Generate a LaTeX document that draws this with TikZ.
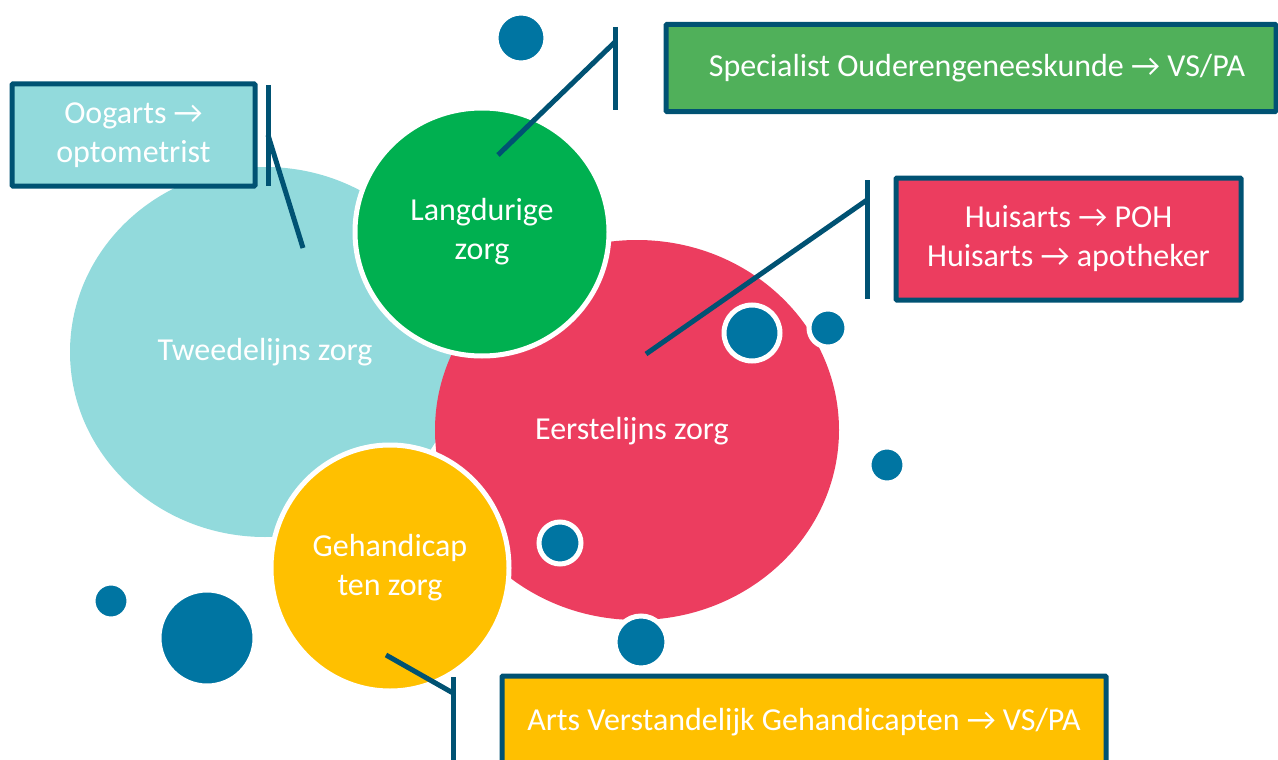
\documentclass[tikz,border=0pt]{standalone}
\usepackage{fontspec}
\setmainfont{Carlito}
\usetikzlibrary{shapes.geometric, positioning}

\definecolor{tealsoft}{RGB}{146,218,220}
\definecolor{carered}{RGB}{236,61,95}
\definecolor{caregreen}{RGB}{0,176,80}
\definecolor{boxgreen}{RGB}{80,176,90}
\definecolor{careyellow}{RGB}{255,192,0}
\definecolor{dotblue}{RGB}{0,117,162}
\definecolor{lineblue}{RGB}{0,82,115}

\newcommand\bigtxt{\fontsize{32}{39}\selectfont}

\tikzset{
  blob/.style={ellipse, inner sep=0pt, text=white, align=center, font=\bigtxt},
  ring/.style={draw=white, line width=5pt},
  dot/.style={circle, fill=dotblue, draw=white, line width=5pt, inner sep=0pt},
  infobox/.style={draw=lineblue, line width=5pt, text=white, align=center,
    font=\bigtxt, rounded corners=1pt, inner sep=0pt},
  callout/.style={draw=lineblue, line width=5pt},
}

\begin{document}
\begin{tikzpicture}[x=1pt, y=-1pt]
  \useasboundingbox (0,0) rectangle (1278,760);

  % zorg circles
  \node[blob, fill=tealsoft, minimum width=390, minimum height=370] (tweede) at (265,352) {Tweedelijns zorg};
  \node[blob, fill=carered, minimum width=404, minimum height=380] (eerste) at (637,430) {};
  \node at (632,431) [text=white, font=\bigtxt] (eersteTxt) {Eerstelijns zorg};
  \node[blob, ring, fill=caregreen, minimum width=254, minimum height=248] (langdurig) at (482,232) {Langdurige\\zorg};
  \node[blob, ring, fill=careyellow, minimum width=238, minimum height=246] (gehandicapt) at (390,568) {Gehandicap\\ten zorg};

  % dots
  \node[dot, minimum size=50] (d1) at (521,38) {};
  \node[dot, minimum size=56] (d2) at (752,333) {};
  \node[dot, minimum size=38] (d3) at (828,328) {};
  \node[dot, minimum size=36] (d4) at (887,465) {};
  \node[dot, minimum size=42] (d5) at (560,543) {};
  \node[dot, minimum size=52] (d6) at (641,642) {};
  \node[dot, minimum size=36] (d7) at (111,601) {};
  \node[dot, minimum size=96] (d8) at (207,638) {};

  % boxes
  \node[infobox, fill=tealsoft, minimum width=243, minimum height=102] (oogBox) at (133.5,135) {Oogarts →\\optometrist};
  \node[infobox, fill=boxgreen, minimum width=610, minimum height=87] (sogBox) at (971,68) {\hspace*{12pt}Specialist Ouderengeneeskunde → VS/PA};
  \node[infobox, fill=carered, minimum width=345, minimum height=122] (haBox) at (1068.5,239) {Huisarts → POH\\Huisarts → apotheker};
  \node[infobox, fill=careyellow, minimum width=604, minimum height=92] (avgBox) at (804,722) {Arts Verstandelijk Gehandicapten → VS/PA};

  % callouts
  \coordinate (oogTop) at (268,85);
  \coordinate (oogBot) at (268,186);
  \coordinate (oogKnee) at (268,135);
  \coordinate (oogTip) at (303,248);
  \draw[callout] (oogTop) -- (oogBot);
  \draw[callout] (oogKnee) -- (oogTip);

  \coordinate (sogTop) at (615,27);
  \coordinate (sogBot) at (615,110);
  \coordinate (sogKnee) at (615,42);
  \coordinate (sogTip) at (498,155);
  \draw[callout] (sogTop) -- (sogBot);
  \draw[callout] (sogKnee) -- (sogTip);

  \coordinate (haTop) at (867,180);
  \coordinate (haBot) at (867,299);
  \coordinate (haKnee) at (867,200);
  \coordinate (haTip) at (646,354);
  \draw[callout] (haTop) -- (haBot);
  \draw[callout] (haKnee) -- (haTip);

  \coordinate (avgTop) at (453,677);
  \coordinate (avgBot) at (453,765);
  \coordinate (avgKnee) at (453,693);
  \coordinate (avgTip) at (386,655);
  \draw[callout] (avgTop) -- (avgBot);
  \draw[callout] (avgKnee) -- (avgTip);
\end{tikzpicture}
\end{document}
